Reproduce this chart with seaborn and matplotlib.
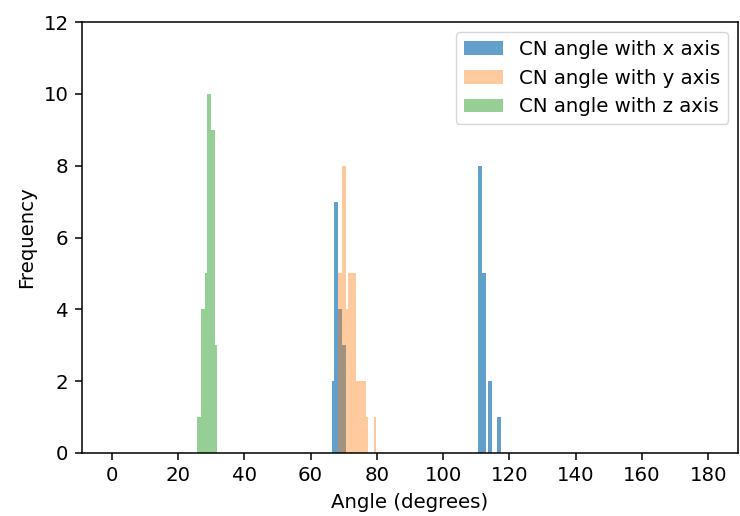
import numpy as np
import pandas as pd
import matplotlib
matplotlib.use("Agg")
import matplotlib.pyplot as plt
import seaborn as sns

# ---- data (bin centres in degrees and their counts) ----
x_angles = [66.9, 67.5, 68.1, 68.7, 69.3, 69.9, 70.5,
            110.7, 111.3, 111.9, 112.5, 113.7, 114.3, 116.7, 117.3]
x_counts = [2, 7, 7, 4, 4, 3, 3,
            8, 8, 5, 5, 2, 2, 1, 1]

y_angles = [68.7, 69.3, 69.9, 70.5, 71.1, 71.7, 72.3, 72.9, 73.5,
            74.1, 74.7, 75.3, 75.9, 76.5, 77.1, 79.5]
y_counts = [5, 5, 8, 8, 4, 5, 5, 5, 5,
            2, 2, 2, 2, 2, 1, 1]

z_angles = [26.1, 26.7, 27.3, 27.9, 28.5, 29.1, 29.7, 30.3, 30.9, 31.5]
z_counts = [1, 1, 4, 4, 5, 10, 10, 9, 9, 3]

labels = ["CN angle with x axis", "CN angle with y axis", "CN angle with z axis"]
x_ticks = [0, 20, 40, 60, 80, 100, 120, 140, 160, 180]
y_ticks = [0, 2, 4, 6, 8, 10, 12]

# ---- style ----
s = 1.38
fs = 14.2
plt.rcParams.update({
    "font.family": ["DejaVu Sans"],
    "font.size": fs,
    "axes.linewidth": 0.8 * s,
    "xtick.major.width": 0.8 * s,
    "ytick.major.width": 0.8 * s,
    "xtick.major.size": 3.5 * s,
    "ytick.major.size": 3.5 * s,
    "xtick.major.pad": 3.5 * s,
    "ytick.major.pad": 3.5 * s,
    "axes.labelpad": 4.0 * s,
})

fig = plt.figure(figsize=(7.4, 5.16), dpi=100)
ax = fig.add_axes([82 / 740, 1 - 453 / 516, (738 - 82) / 740, (453 - 22) / 516])

series = [(x_angles, x_counts, "#1f77b4", 0.7, labels[0]),
          (y_angles, y_counts, "#ff7f0e", 0.4, labels[1]),
          (z_angles, z_counts, "#2ca02c", 0.5, labels[2])]
for ang, cnt, col, a, lab in series:
    df = pd.DataFrame({"angle": ang, "count": cnt})
    sns.histplot(data=df, x="angle", weights="count",
                 binwidth=0.6, binrange=(0, 180),
                 color=col, alpha=a, linewidth=0, label=lab, ax=ax)

ax.set_ylim(0, 12)
ax.set_yticks(y_ticks)
ax.set_xticks(x_ticks)
ax.set_xlabel("Angle (degrees)")
ax.set_ylabel("Frequency")
ax.legend(loc="upper right", fontsize=fs)

fig.savefig("out.png", dpi=100)
